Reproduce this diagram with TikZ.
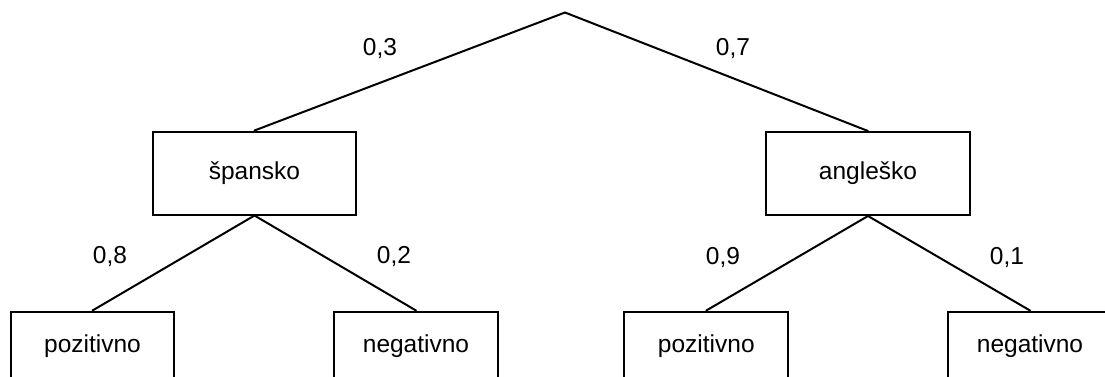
\documentclass[tikz,border=0pt]{standalone}
\usepackage{fontspec}
\setmainfont{Liberation Sans}
\begin{document}
\begin{tikzpicture}[x=1pt,y=-1pt,
  box/.style={draw,line width=2pt,rectangle,inner sep=0pt,minimum width=164pt,
    font=\fontsize{24.5}{28}\selectfont,text height=12.7pt,text depth=0pt},
  topbox/.style={box,minimum height=83pt},
  leafbox/.style={box,minimum height=69pt},
  prob/.style={inner sep=0pt,font=\fontsize{24.5}{28}\selectfont,text height=17.6pt,text depth=0pt},
  edge/.style={line width=2pt,line cap=round}]
\useasboundingbox (0,0) rectangle (1105,376);
\clip (0,0) rectangle (1105,376);
\fill[white] (0,0) rectangle (1105,376);
\coordinate (root) at (565,12.5);
\node[topbox,minimum width=203pt] (sp) at (254.5,173) {špansko};
\node[topbox,minimum width=204pt] (an) at (868,173.5) {angleško};
\node[leafbox,minimum width=163pt] (p1) at (92.5,346) {pozitivno};
\node[leafbox] (n1) at (416,346) {negativno};
\node[leafbox] (p2) at (706.3,346) {pozitivno};
\node[leafbox] (n2) at (1030,346) {negativno};
\draw[edge] (sp.north) -- (root) -- (an.north);
\draw[edge] (p1.north) -- (sp.south) -- (n1.north);
\draw[edge] (p2.north) -- (an.south) -- (n2.north);
\node[prob] (l03) at (380,47) {0,3};
\node[prob] (l07) at (733,47) {0,7};
\node[prob] (l08) at (110,255) {0,8};
\node[prob] (l02) at (394,255) {0,2};
\node[prob] (l09) at (723,256) {0,9};
\node[prob] (l01) at (1007,256) {0,1};
\end{tikzpicture}
\end{document}
